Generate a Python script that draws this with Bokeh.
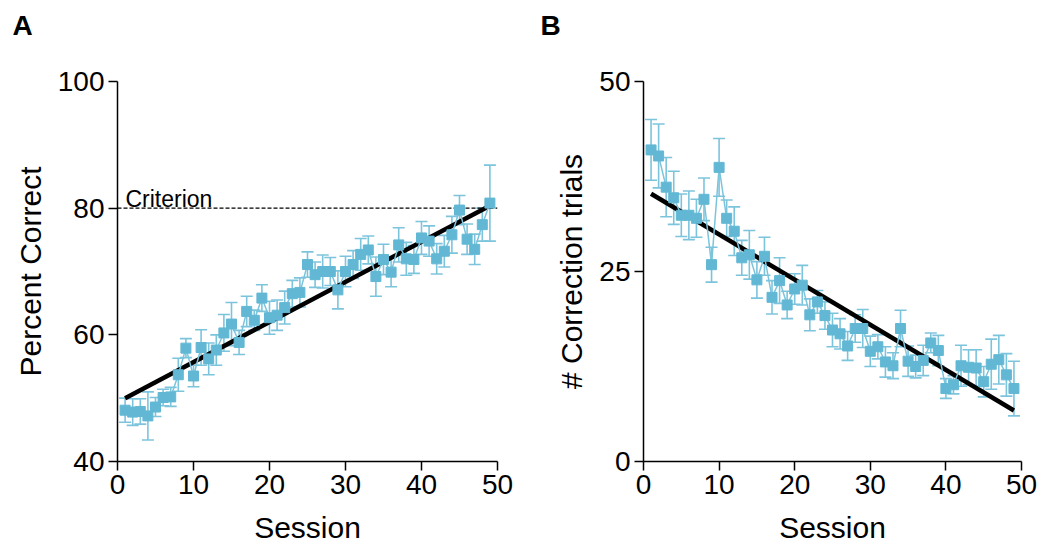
import numpy as np
from bokeh.plotting import figure
from bokeh.layouts import row
from bokeh.models import ColumnDataSource, Whisker, TeeHead, Range1d, FixedTicker, Label, Title
from bokeh.embed import file_html
from bokeh.resources import INLINE

sessions = list(range(1, 50))

pct_correct = [48.1, 47.8, 47.9, 47.2, 48.6, 50.1, 50.2, 53.7, 57.9, 53.5,
               58.0, 56.2, 57.6, 60.3, 61.7, 58.8, 63.7, 62.3, 65.8, 62.7,
               63.1, 64.3, 66.5, 66.7, 71.1, 69.5, 70.0, 70.0, 67.1, 70.0,
               71.1, 72.7, 73.4, 69.2, 71.9, 69.9, 74.2, 72.0, 71.9, 75.3,
               74.8, 72.0, 73.2, 75.8, 79.7, 75.1, 73.5, 77.4, 80.8]
pct_sem = [1.9, 2.1, 2.0, 3.8, 1.5, 1.3, 1.5, 2.6, 1.5, 1.7,
           2.8, 2.5, 2.4, 2.9, 3.4, 1.9, 2.4, 1.6, 2.1, 2.6,
           2.4, 2.6, 2.1, 2.3, 2.0, 2.0, 2.6, 2.2, 3.0, 2.4,
           2.2, 2.5, 2.2, 3.1, 2.4, 2.3, 2.7, 2.6, 2.2, 2.6,
           2.4, 2.4, 2.5, 2.9, 2.3, 2.4, 2.4, 2.6, 6.0]

corr_trials = [41.0, 40.2, 36.1, 34.7, 32.4, 32.4, 32.0, 34.5, 25.9, 38.7,
               32.0, 30.3, 26.8, 27.2, 23.9, 27.0, 21.6, 23.8, 20.6, 22.7,
               23.2, 19.3, 21.0, 19.2, 17.3, 16.8, 15.2, 17.5, 17.5, 14.5,
               15.1, 13.1, 12.6, 17.5, 13.2, 12.5, 13.3, 15.6, 14.6, 9.6,
               10.1, 12.6, 12.4, 12.3, 10.5, 12.8, 13.4, 11.4, 9.6]
corr_sem = [4.0, 4.2, 3.9, 3.5, 2.8, 3.2, 2.5, 2.8, 2.3, 3.8,
            2.4, 3.2, 2.3, 3.2, 2.4, 2.5, 2.2, 3.0, 1.8, 2.0,
            2.6, 2.1, 1.5, 1.8, 2.2, 2.0, 1.9, 1.8, 2.5, 2.0,
            1.6, 2.0, 1.7, 2.4, 2.0, 1.5, 2.0, 1.3, 2.0, 1.3,
            1.2, 2.7, 2.3, 2.4, 2.0, 3.3, 3.2, 2.8, 3.6]

criterion = 80
yticks_a = [40, 60, 80, 100]
yticks_b = [0, 25, 50]
xticks = [0, 10, 20, 30, 40, 50]

BLUE = "#62B8D4"
LINE_BLUE = "#7CC4DC"
FONT = "Liberation Sans"


def style(p, ylabel, yticks):
    p.outline_line_color = None
    p.grid.visible = False
    p.xaxis.axis_label = "Session"
    p.yaxis.axis_label = ylabel
    p.xaxis.ticker = FixedTicker(ticks=xticks)
    p.yaxis.ticker = FixedTicker(ticks=yticks)
    for ax in (p.xaxis[0], p.yaxis[0]):
        ax.axis_line_width = 1.5
        ax.axis_line_color = "black"
        ax.major_tick_line_width = 1.5
        ax.major_tick_line_color = "black"
        ax.major_tick_out = 9
        ax.major_tick_in = 0
        ax.minor_tick_out = 0
        ax.minor_tick_in = 0
        ax.major_label_text_font = FONT
        ax.major_label_text_font_size = "28px"
        ax.major_label_text_color = "black"
        ax.major_label_standoff = 4
        ax.axis_label_text_font = FONT
        ax.axis_label_text_font_size = "30px"
        ax.axis_label_text_font_style = "normal"
        ax.axis_label_text_color = "black"
    p.xaxis.axis_label_standoff = 14
    p.yaxis.axis_label_standoff = 8


def panel_letter(p, letter, offset):
    spacer = Title(text=" ", align="left", standoff=26, text_font=FONT,
                   text_font_size="10px", text_color="white")
    p.add_layout(spacer, "above")
    t = Title(text=letter, align="left", offset=offset, vertical_align="top",
              standoff=0, text_font=FONT, text_font_size="28px",
              text_font_style="bold", text_color="black")
    p.add_layout(t, "above")


def draw(p, x, y, e):
    x = np.array(x, dtype=float)
    y = np.array(y, dtype=float)
    e = np.array(e, dtype=float)
    k, b = np.polyfit(x, y, 1)
    xf = np.array([x.min(), x.max()])
    src = ColumnDataSource(dict(x=x, y=y, lo=y - e, hi=y + e))
    p.line(xf, k * xf + b, line_color="black", line_width=4.5)
    p.line("x", "y", source=src, line_color=LINE_BLUE, line_width=1.5)
    w = Whisker(source=src, base="x", upper="hi", lower="lo", dimension="height",
                line_color=LINE_BLUE, line_width=1.6,
                upper_head=TeeHead(size=12, line_color=LINE_BLUE, line_width=1.6),
                lower_head=TeeHead(size=12, line_color=LINE_BLUE, line_width=1.6))
    p.add_layout(w)
    p.scatter("x", "y", source=src, marker="square", size=10,
              fill_color=BLUE, line_color=BLUE)


# Panel A
pa = figure(width=533, height=549, x_range=Range1d(0, 50), y_range=Range1d(40, 100),
            output_backend="svg", toolbar_location=None,
            min_border_left=117, min_border_right=36, min_border_top=81, min_border_bottom=88)
style(pa, "Percent Correct", yticks_a)
pa.line([0, 50], [criterion, criterion], line_color="black", line_width=1.2, line_dash="4 2")
draw(pa, sessions, pct_correct, pct_sem)
pa.add_layout(Label(x=1.05, y=81.5, text="Criterion", text_font=FONT,
                    text_font_size="23px", text_color="black", text_baseline="alphabetic"))
panel_letter(pa, "A", -105)

# Panel B
pb = figure(width=509, height=549, x_range=Range1d(0, 50), y_range=Range1d(0, 50),
            output_backend="svg", toolbar_location=None,
            min_border_left=110, min_border_right=21, min_border_top=81, min_border_bottom=88)
style(pb, "# Correction trials", yticks_b)
draw(pb, sessions, corr_trials, corr_sem)
panel_letter(pb, "B", -103)

layout = row(pa, pb)
open("out.html", "w").write(file_html(layout, INLINE))
